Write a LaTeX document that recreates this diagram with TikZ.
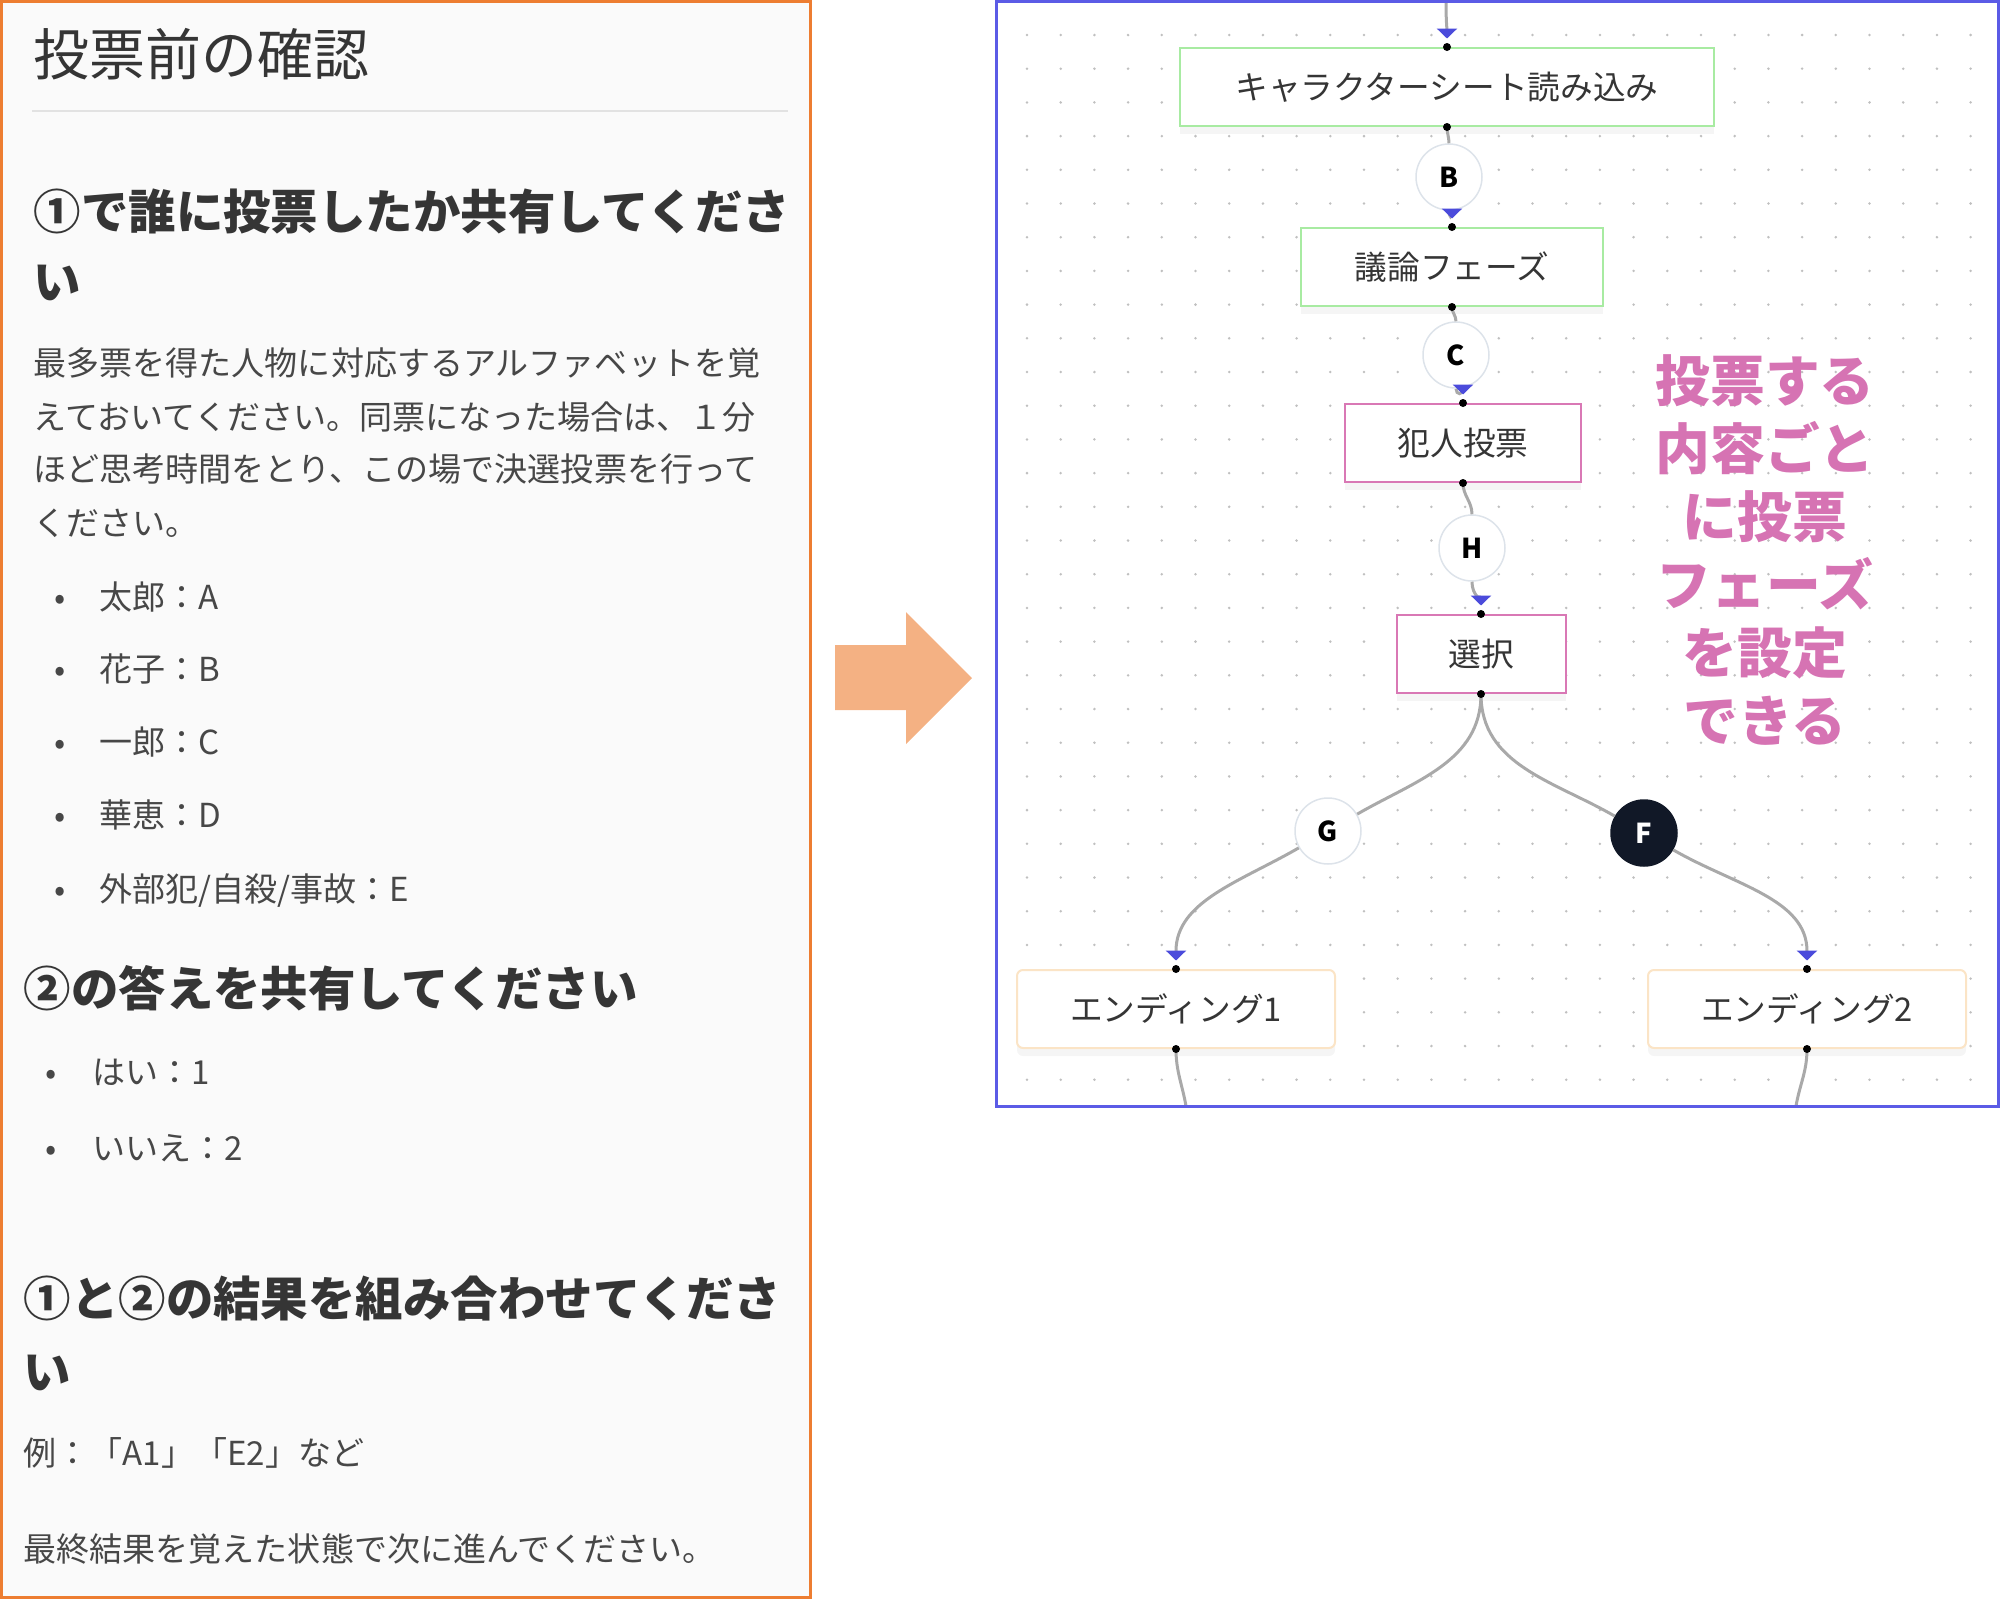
\documentclass[tikz,border=0pt]{standalone}
\usepackage{fontspec}
\setmainfont{Noto Sans CJK JP}
\usetikzlibrary{arrows.meta,shadows}
\definecolor{panelorange}{HTML}{ED7D31}
\definecolor{panelbg}{HTML}{FAFAFA}
\definecolor{arroworange}{HTML}{F4B183}
\definecolor{panelblue}{HTML}{5B5BE6}
\definecolor{gridgray}{HTML}{C0C0C0}
\definecolor{flowgray}{HTML}{A9A9A9}
\definecolor{tipblue}{HTML}{4B4BDB}
\definecolor{setupgreen}{HTML}{A8EBA2}
\definecolor{votepink}{HTML}{D978B5}
\definecolor{endcream}{HTML}{FBE4C6}
\definecolor{notepink}{HTML}{D673B3}
\definecolor{ringgray}{HTML}{DDE3EA}
\definecolor{rulegray}{HTML}{E2E2E2}
\definecolor{inkgray}{HTML}{353535}
\definecolor{bodygray}{HTML}{474747}
\definecolor{darknode}{HTML}{111827}

\begin{document}
\begin{tikzpicture}[
  x=0.1mm, y=-0.1mm,
  >={Triangle[length=1mm,width=2mm,color=tipblue]},
  phasebox/.style={draw, fill=white, line width=0.2mm, minimum height=7.8mm,
    inner sep=0pt, text=inkgray, font=\fontsize{9.3}{11}\selectfont,
    drop shadow={shadow xshift=0mm, shadow yshift=-0.8mm, opacity=0.08}},
  setupbox/.style={phasebox, draw=setupgreen},
  votebox/.style={phasebox, draw=votepink},
  endbox/.style={phasebox, draw=endcream, rounded corners=0.6mm, minimum width=31.8mm},
  letternode/.style={circle, draw=ringgray, line width=0.15mm, fill=white,
    minimum size=6.6mm, inner sep=0pt, font=\fontsize{7.8}{8}\selectfont\bfseries},
  flow/.style={draw=flowgray, line width=0.3mm},
  arrowed/.style={->, shorten >=0.85mm},
  down/.style={out=-90, in=90},
  titletext/.style={anchor=base west, inner sep=0pt, text=inkgray,
    font=\fontsize{15.9}{18}\selectfont},
  headtext/.style={anchor=base west, inner sep=0pt, text=inkgray,
    font=\fontsize{13.5}{16}\selectfont\bfseries},
  bodytext/.style={anchor=base west, inner sep=0pt, text=bodygray,
    font=\fontsize{9.4}{12}\selectfont},
  listdot/.style={bodytext, anchor=base},
  memo/.style={align=center, text=notepink, font=\fontsize{15.6}{19.3}\selectfont\bfseries}
]
  \useasboundingbox (0,0) rectangle (2000,1600);

  \foreach \i in {0,...,28}
    \foreach \j in {0,...,31}
      \fill[gridgray] ({1027+33.7*\i},{35+33.7*\j}) circle[radius=0.14mm];

  \draw[panelorange, line width=0.3mm, fill=panelbg] (1.5,1.5) rectangle (810,1597.5);
  \draw[rulegray, line width=0.2mm] (32,111) -- (788,111);
  \fill[arroworange] (835,645) -- (906,645) -- (906,612) -- (972,678)
    -- (906,744) -- (906,710) -- (835,710) -- cycle;

  \node[titletext] (title) at (33,75) {投票前の確認};
  \node[headtext] (q1a) at (33,229) {①で誰に投票したか共有してくださ};
  \node[headtext] (q1b) at (33,299) {い};
  \node[bodytext] (p1) at (33,375) {最多票を得た人物に対応するアルファベットを覚};
  \node[bodytext] (p2) at (33,429) {えておいてください。同票になった場合は、１分};
  \node[bodytext] (p3) at (33,481) {ほど思考時間をとり、この場で決選投票を行って};
  \node[bodytext] (p4) at (33,535) {ください。};
  \node[listdot] (d1) at (60,609) {•};
  \node[bodytext] (taro) at (99,609) {太郎：A};
  \node[listdot] (d2) at (60,681) {•};
  \node[bodytext] (hanako) at (99,681) {花子：B};
  \node[listdot] (d3) at (60,754) {•};
  \node[bodytext] (ichiro) at (99,754) {一郎：C};
  \node[listdot] (d4) at (60,827) {•};
  \node[bodytext] (hanae) at (99,827) {華恵：D};
  \node[listdot] (d5) at (60,901) {•};
  \node[bodytext] (other) at (99,901) {外部犯/自殺/事故：E};
  \node[headtext] (q2) at (23,1006) {②の答えを共有してください};
  \node[listdot] (d6) at (51,1084) {•};
  \node[bodytext] (yes) at (92,1084) {はい：1};
  \node[listdot] (d7) at (51,1160) {•};
  \node[bodytext] (no) at (92,1160) {いいえ：2};
  \node[headtext] (q3a) at (23,1316) {①と②の結果を組み合わせてくださ};
  \node[headtext] (q3b) at (23,1389) {い};
  \node[bodytext] (example) at (23,1465) {例：「A1」「E2」など};
  \node[bodytext] (final) at (23,1561) {最終結果を覚えた状態で次に進んでください。};

  \coordinate (entry) at (1446,3);
  \coordinate (tail1) at (1186,1106);
  \coordinate (tail2) at (1796,1106);
  \node[setupbox, minimum width=53.4mm] (sheet) at (1447,87) {キャラクターシート読み込み};
  \node[letternode] (b) at (1449,177) {B};
  \node[setupbox, minimum width=30.2mm] (talk) at (1452,267) {議論フェーズ};
  \node[letternode] (c) at (1456,355) {C};
  \node[votebox, minimum width=23.6mm] (culprit) at (1463,443) {犯人投票};
  \node[letternode] (h) at (1472,548) {H};
  \node[votebox, minimum width=16.9mm] (choice) at (1481,654) {選択};
  \node[letternode] (g) at (1328,831) {G};
  \node[letternode, fill=darknode, draw=darknode, text=white] (f) at (1644,833) {F};
  \node[endbox] (end1) at (1176,1009) {エンディング1};
  \node[endbox] (end2) at (1807,1009) {エンディング2};

  \path[flow]
    (entry) edge[arrowed, down] (sheet.north)
    (sheet.south) edge[down] (b.north)
    (b.south) edge[arrowed, down] (talk.north)
    (talk.south) edge[down] (c.north)
    (c.south) edge[arrowed, down] (culprit.north)
    (culprit.south) edge[down] (h.north)
    (h.south) edge[arrowed, down] (choice.north)
    (choice.south) edge[out=-90, in=30] (g)
    (g) edge[arrowed, out=210, in=90] (end1.north)
    (choice.south) edge[out=-90, in=150] (f)
    (f) edge[arrowed, out=-30, in=90] (end2.north)
    (end1.south) edge[out=-90, in=100] (tail1)
    (end2.south) edge[out=-90, in=80] (tail2);

  \foreach \p in {sheet, talk, culprit, choice, end1, end2} {
    \fill (\p.north) circle[radius=0.4mm];
    \fill (\p.south) circle[radius=0.4mm];
  }

  \node[memo] (hint) at (1765,550) {投票する\\内容ごと\\に投票\\フェーズ\\を設定\\できる};

  \draw[panelblue, line width=0.3mm] (996,1.5) rectangle (1998.5,1106);
\end{tikzpicture}
\end{document}
